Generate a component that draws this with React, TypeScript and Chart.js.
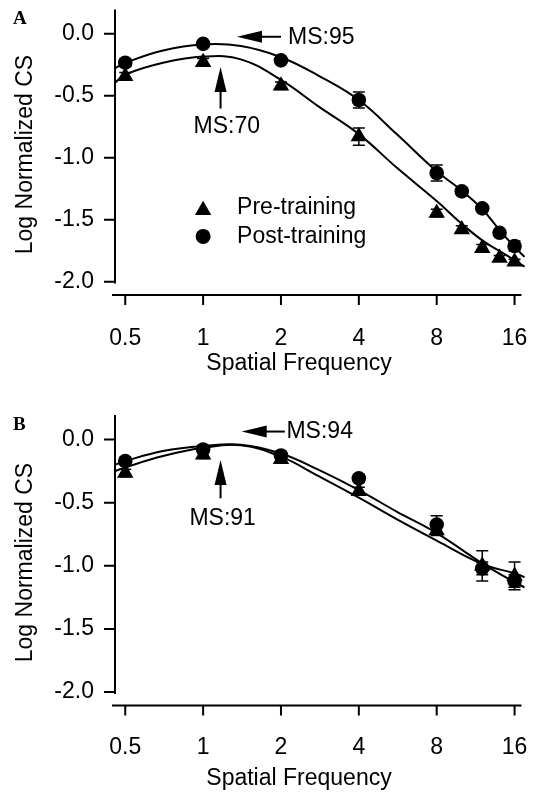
import React, { useEffect, useRef } from 'react';
import { Chart, registerables } from 'chart.js';

Chart.register(...registerables);

const FONT_FAMILY = '"Liberation Sans", Arial, Helvetica, sans-serif';
const FONT_SIZE = 23;

// ---- shared axis definitions ----
const xTickValues = [0.5, 1, 2, 4, 8, 16];
const yTickValues = [0, -0.5, -1, -1.5, -2];
const xAxisTitle = 'Spatial Frequency';
const yAxisTitle = 'Log Normalized CS';
const legendLabels = ['Pre-training', 'Post-training'];

// ---- Panel A ----
const freqA = [0.5, 1, 2, 4, 8, 10, 12, 14, 16];
const preA = [-0.344, -0.23, -0.42, -0.83, -1.447, -1.58, -1.73, -1.81, -1.84];
const preErrA = [0.03, 0.03, 0.03, 0.07, 0.03, 0.03, 0.03, 0.02, 0.02];
const postA = [-0.234, -0.082, -0.215, -0.535, -1.124, -1.272, -1.409, -1.606, -1.713];
const postErrA = [0.03, 0.02, 0.02, 0.065, 0.065, 0.03, 0.02, 0.02, 0.04];
const fitFreqA = [0.4564, 0.5, 0.7, 1, 1.4, 2, 2.8, 4, 5.6, 8, 10, 12, 14, 16, 17.48];
const preFitA = [-0.396, -0.33, -0.235, -0.185, -0.207, -0.373, -0.588, -0.81, -1.08, -1.35, -1.534, -1.667, -1.753, -1.827, -1.88];
const postFitA = [-0.28, -0.235, -0.135, -0.087, -0.1, -0.19, -0.34, -0.535, -0.81, -1.11, -1.265, -1.415, -1.585, -1.72, -1.8];

// ---- Panel B ----
const freqB = [0.5, 1, 2, 4, 8, 12, 16];
const preB = [-0.265, -0.12, -0.155, -0.408, -0.72, -1.0, -1.08];
const preErrB = [0.03, 0.03, 0.03, 0.03, 0.04, 0.12, 0.11];
const postB = [-0.17, -0.078, -0.126, -0.307, -0.673, -1.02, -1.12];
const postErrB = [0.03, 0.03, 0.03, 0.03, 0.07, 0.05, 0.05];
const fitFreqB = [0.4564, 0.5, 0.7, 1, 1.4, 2, 2.8, 4, 5.6, 8, 12, 16, 17.48];
const preFitB = [-0.25, -0.22, -0.13, -0.065, -0.045, -0.135, -0.29, -0.46, -0.63, -0.8, -0.985, -1.06, -1.09];
const postFitB = [-0.2, -0.17, -0.09, -0.05, -0.04, -0.11, -0.24, -0.4, -0.57, -0.74, -0.98, -1.13, -1.17];

// ---- annotations (data coordinates) ----
const arrowsA = [
  { text: 'MS:95', tipX: 1.352, tipY: -0.025, tailX: 2.0, tailY: -0.025, textX: 2.13, textY: -0.029, align: 'left' },
  { text: 'MS:70', tipX: 1.168, tipY: -0.269, tailX: 1.168, tailY: -0.604, textX: 1.235, textY: -0.749, align: 'center' },
];
const arrowsB = [
  { text: 'MS:94', tipX: 1.41, tipY: 0.064, tailX: 2.07, tailY: 0.064, textX: 2.1, textY: 0.06, align: 'left' },
  { text: 'MS:91', tipX: 1.168, tipY: -0.162, tailX: 1.168, tailY: -0.465, textX: 1.19, textY: -0.625, align: 'center' },
];
const legendAt = { x: 1, preY: -1.405, postY: -1.635 };

const X_MIN = 0.4564;
const X_MAX = 17.48;
const Y_MIN = -2.015;
const Y_MAX = 0.195;

type Spec = {
  letter: string;
  letterBaseline: number;
  height: number;
  padTop: number;
  xAxisHeight: number;
  xLabelPad: number;
  xTitleY: number;
  freq: number[];
  pre: number[];
  preErr: number[];
  post: number[];
  postErr: number[];
  fitFreq: number[];
  preFit: number[];
  postFit: number[];
  arrows: any[];
  legend: boolean;
};

const specA: Spec = {
  letter: 'A', letterBaseline: 24, height: 390, padTop: 7, xAxisHeight: 106.5, xLabelPad: 41.5, xTitleY: 364,
  freq: freqA, pre: preA, preErr: preErrA, post: postA, postErr: postErrA,
  fitFreq: fitFreqA, preFit: preFitA, postFit: postFitA, arrows: arrowsA, legend: true,
};
const specB: Spec = {
  letter: 'B', letterBaseline: 40, height: 403, padTop: 25, xAxisHeight: 99, xLabelPad: 40, xTitleY: 389,
  freq: freqB, pre: preB, preErr: preErrB, post: postB, postErr: postErrB,
  fitFreq: fitFreqB, preFit: preFitB, postFit: postFitB, arrows: arrowsB, legend: false,
};

const font = () => `${FONT_SIZE}px ${FONT_FAMILY}`;

function drawTriangle(ctx: CanvasRenderingContext2D, x: number, y: number, r: number) {
  ctx.beginPath();
  let rad = 0;
  ctx.moveTo(x + Math.sin(rad) * r, y - Math.cos(rad) * r);
  rad += (2 * Math.PI) / 3;
  ctx.lineTo(x + Math.sin(rad) * r, y - Math.cos(rad) * r);
  rad += (2 * Math.PI) / 3;
  ctx.lineTo(x + Math.sin(rad) * r, y - Math.cos(rad) * r);
  ctx.closePath();
  ctx.fill();
}

function drawArrow(ctx: CanvasRenderingContext2D, tx: number, ty: number, hx: number, hy: number) {
  const len = Math.hypot(hx - tx, hy - ty);
  const ux = (hx - tx) / len;
  const uy = (hy - ty) / len;
  const headLen = 25;
  const headHalf = 6;
  const bx = hx - ux * headLen;
  const by = hy - uy * headLen;
  ctx.beginPath();
  ctx.moveTo(tx, ty);
  ctx.lineTo(bx + ux * 2, by + uy * 2);
  ctx.stroke();
  ctx.beginPath();
  ctx.moveTo(hx, hy);
  ctx.lineTo(bx - uy * headHalf, by + ux * headHalf);
  ctx.lineTo(bx + uy * headHalf, by - ux * headHalf);
  ctx.closePath();
  ctx.fill();
}

function makeDecor(spec: Spec) {
  return {
    id: 'decor' + spec.letter,
    beforeDatasetsDraw(chart: any) {
      const { ctx } = chart;
      const xs = chart.scales.x;
      const ys = chart.scales.y;
      ctx.save();
      ctx.strokeStyle = '#000';
      ctx.lineWidth = 1.5;
      const series = [
        { v: spec.pre, e: spec.preErr },
        { v: spec.post, e: spec.postErr },
      ];
      for (const s of series) {
        spec.freq.forEach((f, i) => {
          const x = xs.getPixelForValue(f);
          const y1 = ys.getPixelForValue(s.v[i] + s.e[i]);
          const y2 = ys.getPixelForValue(s.v[i] - s.e[i]);
          ctx.beginPath();
          ctx.moveTo(x, y1);
          ctx.lineTo(x, y2);
          ctx.moveTo(x - 6, y1);
          ctx.lineTo(x + 6, y1);
          ctx.moveTo(x - 6, y2);
          ctx.lineTo(x + 6, y2);
          ctx.stroke();
        });
      }
      ctx.restore();
    },
    afterDraw(chart: any) {
      const { ctx, chartArea } = chart;
      const { left, right, top, bottom } = chartArea;
      const xs = chart.scales.x;
      const ys = chart.scales.y;
      ctx.save();
      ctx.strokeStyle = '#000';
      ctx.fillStyle = '#000';
      ctx.lineWidth = 2;
      // y axis
      ctx.beginPath();
      ctx.moveTo(left, top);
      ctx.lineTo(left, bottom);
      yTickValues.forEach((v) => {
        const y = ys.getPixelForValue(v);
        ctx.moveTo(left - 11, y);
        ctx.lineTo(left, y);
      });
      ctx.stroke();
      // x axis (offset below)
      const ya = bottom + 11.5;
      ctx.beginPath();
      ctx.moveTo(left - 3, ya);
      ctx.lineTo(right - 3, ya);
      xTickValues.forEach((v) => {
        const x = xs.getPixelForValue(v);
        ctx.moveTo(x, ya);
        ctx.lineTo(x, ya + 10);
      });
      ctx.stroke();

      // arrows and labels
      ctx.font = font();
      ctx.textBaseline = 'middle';
      for (const a of spec.arrows) {
        const hx = xs.getPixelForValue(a.tipX);
        const hy = ys.getPixelForValue(a.tipY);
        const tx = xs.getPixelForValue(a.tailX);
        const ty = ys.getPixelForValue(a.tailY);
        drawArrow(ctx, tx, ty, hx, hy);
        ctx.textAlign = a.align;
        ctx.fillText(a.text, xs.getPixelForValue(a.textX), ys.getPixelForValue(a.textY));
      }

      // legend
      if (spec.legend) {
        const lx = xs.getPixelForValue(legendAt.x);
        const py = ys.getPixelForValue(legendAt.preY);
        const qy = ys.getPixelForValue(legendAt.postY);
        drawTriangle(ctx, lx, py + 9.5 / 4, 9.5);
        ctx.beginPath();
        ctx.arc(lx, qy, 7.5, 0, Math.PI * 2);
        ctx.fill();
        ctx.textAlign = 'left';
        ctx.fillText(legendLabels[0], lx + 34, py);
        ctx.fillText(legendLabels[1], lx + 34, qy);
      }

      // x axis title
      ctx.textAlign = 'center';
      ctx.textBaseline = 'middle';
      ctx.fillText(xAxisTitle, 299, spec.xTitleY);

      // y axis title
      ctx.save();
      ctx.translate(26, (top + bottom) / 2 + 8);
      ctx.rotate(-Math.PI / 2);
      ctx.textAlign = 'center';
      ctx.textBaseline = 'middle';
      ctx.fillText(yAxisTitle, 0, 0);
      ctx.restore();

      // panel letter
      ctx.font = `bold 19px "Liberation Serif", "Times New Roman", serif`;
      ctx.textAlign = 'left';
      ctx.textBaseline = 'alphabetic';
      ctx.fillText(spec.letter, 13, spec.letterBaseline);
      ctx.restore();
    },
  };
}

function buildConfig(spec: Spec): any {
  const tickFont = { family: FONT_FAMILY, size: FONT_SIZE };
  const lineDs = (vals: number[], label: string) => ({
    label,
    data: spec.fitFreq.map((x, i) => ({ x, y: vals[i] })),
    showLine: true,
    borderColor: '#000',
    borderWidth: 2,
    pointRadius: 0,
    tension: 0.4,
    fill: false,
    clip: false,
  });
  return {
    type: 'scatter',
    data: {
      datasets: [
        lineDs(spec.preFit, 'pre fit'),
        lineDs(spec.postFit, 'post fit'),
        {
          label: legendLabels[0],
          data: spec.freq.map((x, i) => ({ x, y: spec.pre[i] })),
          pointStyle: 'triangle',
          pointRadius: 9.5,
          backgroundColor: '#000',
          borderColor: '#000',
          borderWidth: 0,
          clip: false,
        },
        {
          label: legendLabels[1],
          data: spec.freq.map((x, i) => ({ x, y: spec.post[i] })),
          pointStyle: 'circle',
          pointRadius: 7.3,
          backgroundColor: '#000',
          borderColor: '#000',
          borderWidth: 0,
          clip: false,
        },
      ],
    },
    options: {
      animation: false,
      responsive: false,
      devicePixelRatio: 1,
      layout: { padding: { top: spec.padTop, right: 4, left: 0, bottom: 0 } },
      plugins: { legend: { display: false }, tooltip: { enabled: false } },
      events: [],
      scales: {
        x: {
          type: 'logarithmic',
          position: 'bottom',
          min: X_MIN,
          max: X_MAX,
          afterBuildTicks: (s: any) => {
            s.ticks = xTickValues.map((v) => ({ value: v }));
          },
          afterFit: (s: any) => {
            s.height = spec.xAxisHeight;
            s.paddingLeft = 0;
            s.paddingRight = 0;
          },
          grid: { display: false, drawTicks: false },
          border: { display: false },
          ticks: {
            autoSkip: false,
            maxRotation: 0,
            minRotation: 0,
            padding: spec.xLabelPad,
            color: '#000',
            font: tickFont,
            callback: (v: any) => String(v),
          },
          title: { display: false },
        },
        y: {
          type: 'linear',
          position: 'left',
          min: Y_MIN,
          max: Y_MAX,
          afterBuildTicks: (s: any) => {
            s.ticks = yTickValues.map((v) => ({ value: v }));
          },
          afterFit: (s: any) => {
            s.width = 115;
            s.paddingTop = 0;
            s.paddingBottom = 0;
          },
          grid: { display: false, drawTicks: false },
          border: { display: false },
          ticks: {
            padding: 21,
            color: '#000',
            font: tickFont,
            callback: (v: any) => Number(v).toFixed(1),
          },
        },
      },
    },
    plugins: [makeDecor(spec)],
  };
}

function Panel({ spec, top }: { spec: Spec; top: number }) {
  const ref = useRef<HTMLCanvasElement>(null);
  useEffect(() => {
    if (!ref.current) return;
    const chart = new Chart(ref.current, buildConfig(spec));
    return () => chart.destroy();
  }, [spec]);
  return (
    <canvas
      ref={ref}
      width={534}
      height={spec.height}
      style={{ position: 'absolute', left: 0, top, width: 534, height: spec.height, display: 'block' }}
    />
  );
}

export default function App() {
  return (
    <div style={{ position: 'absolute', left: 0, top: 0, width: 534, height: 793, background: '#fff', overflow: 'hidden' }}>
      <Panel spec={specA} top={0} />
      <Panel spec={specB} top={390} />
    </div>
  );
}
